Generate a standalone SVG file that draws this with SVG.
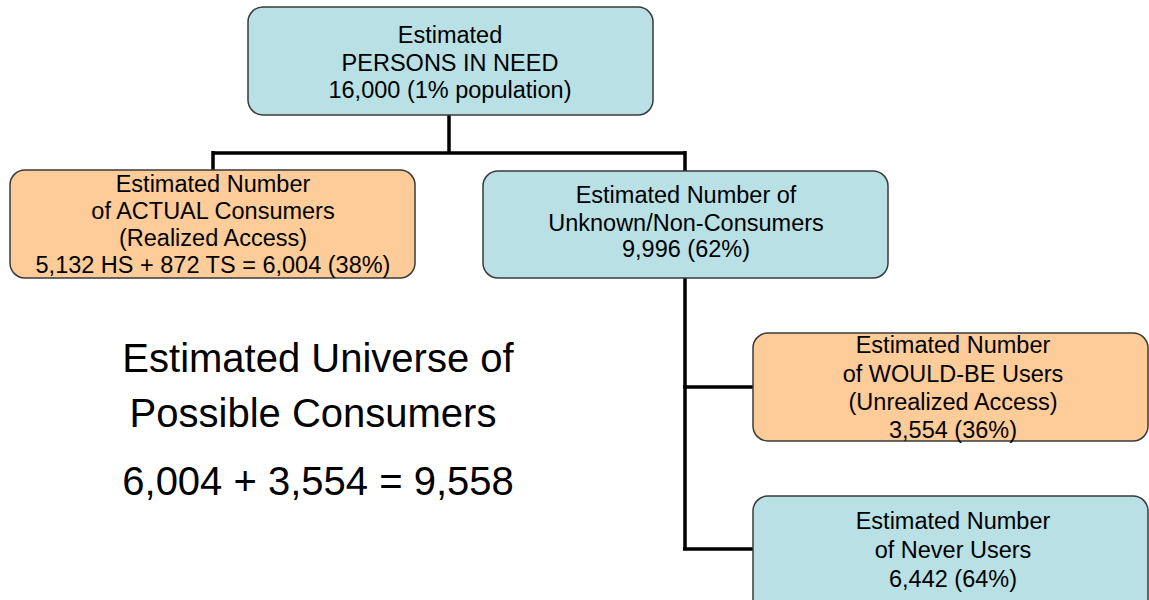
<svg xmlns="http://www.w3.org/2000/svg" width="1149" height="600" viewBox="0 0 1149 600">
<style>
  .box { stroke: #3a3a3a; stroke-width: 1.5; }
  .blue { fill: #b9e0e4; }
  .orange { fill: #fdcc99; }
  .t { font-family: "Liberation Sans", Arial, sans-serif; font-size: 23.5px; fill: #000; text-anchor: middle; }
  .big { font-family: "Liberation Sans", Arial, sans-serif; font-size: 40px; fill: #000; text-anchor: middle; }
  .conn { stroke: #000; stroke-width: 3.5; fill: none; }
</style>
<rect width="1149" height="600" fill="#ffffff"/>
<g id="connectors">
  <path class="conn" d="M449 115 V153 M213 153 H685 M213 151 V171 M685 151 V171"/>
  <path class="conn" d="M685 278 V549 M683 387 H753 M683 549 H753"/>
</g>
<g id="persons-in-need">
  <rect class="box blue" x="248" y="7" width="405" height="108" rx="15"/>
  <text class="t" x="450" y="43">Estimated</text>
  <text class="t" x="450" y="71">PERSONS IN NEED</text>
  <text class="t" x="450" y="98">16,000 (1% population)</text>
</g>
<g id="actual-consumers">
  <rect class="box orange" x="10" y="170" width="405" height="108" rx="15"/>
  <text class="t" x="213" y="192">Estimated Number</text>
  <text class="t" x="213" y="219">of ACTUAL Consumers</text>
  <text class="t" x="213" y="246">(Realized Access)</text>
  <text class="t" x="213" y="273">5,132 HS + 872 TS = 6,004 (38%)</text>
</g>
<g id="non-consumers">
  <rect class="box blue" x="483" y="171" width="405" height="107" rx="15"/>
  <text class="t" x="686" y="203">Estimated Number of</text>
  <text class="t" x="686" y="231">Unknown/Non-Consumers</text>
  <text class="t" x="686" y="257">9,996 (62%)</text>
</g>
<g id="would-be-users">
  <rect class="box orange" x="753" y="333" width="395" height="108" rx="15"/>
  <text class="t" x="953" y="353">Estimated Number</text>
  <text class="t" x="953" y="382">of WOULD-BE Users</text>
  <text class="t" x="953" y="410">(Unrealized Access)</text>
  <text class="t" x="953" y="438">3,554 (36%)</text>
</g>
<g id="never-users">
  <rect class="box blue" x="753" y="496" width="395" height="120" rx="15"/>
  <text class="t" x="953" y="529">Estimated Number</text>
  <text class="t" x="953" y="558">of Never Users</text>
  <text class="t" x="953" y="587">6,442 (64%)</text>
</g>
<g id="universe-text">
  <text class="big" x="318" y="372">Estimated Universe of</text>
  <text class="big" x="313" y="427">Possible Consumers</text>
  <text class="big" x="318" y="495">6,004 + 3,554 = 9,558</text>
</g>
</svg>
